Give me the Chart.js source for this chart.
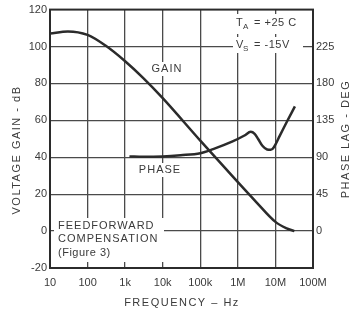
<!DOCTYPE html>
<html>
<head>
<meta charset="utf-8">
<script src="https://cdn.jsdelivr.net/npm/chart.js@4.4.0/dist/chart.umd.min.js"></script>
<style>
  html, body { margin: 0; padding: 0; background: #fff; }
</style>
</head>
<body>
<canvas id="chart" width="351" height="310"></canvas>
<script>
// Open loop gain (dB) and phase lag (deg) vs frequency
const gainFreq = [10, 30, 100, 300, 1e3, 3e3, 1e4, 1e5, 1e6, 3e6, 1e7, 2e7, 3.2e7];
const gainDb = [107, 108.2, 106.3, 100.5, 92, 83, 72, 49, 26.5, 16, 5, 1.5, 0];

const phaseFreq = [1.3e3, 3e3, 1e4, 3e4, 1e5, 2.2e5, 7e5, 1.5e6, 2.2e6, 2.8e6, 3.5e6, 4.5e6, 6e6, 7.5e6, 9e6, 1.3e7, 2e7, 3.3e7];
const phaseDeg = [91, 90.5, 91, 92.5, 95, 100, 109, 116.5, 121, 118.5, 112, 104, 99.5, 99, 102, 116, 133, 152];

const freqTicks = [10, 100, 1e3, 1e4, 1e5, 1e6, 1e7, 1e8];
const freqLabels = ['10', '100', '1k', '10k', '100k', '1M', '10M', '100M'];
const gainTicks = [-20, 0, 20, 40, 60, 80, 100, 120];
const phaseTicks = [0, 45, 90, 135, 180, 225];

const ink = '#2b2b2b';
const textCol = '#3a3a3a';
const gridCol = '#4a4a4a';
const tickFont = { family: 'Liberation Sans, Arial, sans-serif', size: 11 };

function textBox(ctx, str, x, y, align) {
    const w = ctx.measureText(str).width;
    const left = align === 'center' ? x - w / 2 : x;
    ctx.fillStyle = '#fff';
    ctx.fillRect(left - 2, y - 7, w + 4, 14);
    ctx.fillStyle = textCol;
    ctx.textAlign = align;
    ctx.fillText(str, x, y);
}

const decor = {
    id: 'decor',
    beforeDatasetsDraw(chart) {
        const ctx = chart.ctx;
        ctx.save();
        ctx.font = '11px Liberation Sans, Arial, sans-serif';
        ctx.letterSpacing = '1px';
        ctx.textBaseline = 'middle';

        textBox(ctx, 'GAIN', 167, 69, 'center');
        textBox(ctx, 'PHASE', 160, 170, 'center');

        // bottom left note
        ctx.fillStyle = '#fff';
        ctx.fillRect(54, 218, 110, 44);
        ctx.fillStyle = textCol;
        ctx.textAlign = 'left';
        ctx.fillText('FEEDFORWARD', 58, 226);
        ctx.fillText('COMPENSATION', 58, 239);
        ctx.letterSpacing = '0.5px';
        ctx.fillText('(Figure 3)', 58, 253);

        // conditions, top right
        ctx.fillStyle = '#fff';
        ctx.fillRect(233, 14, 73, 20);
        ctx.fillRect(233, 37, 70, 16);
        ctx.fillStyle = textCol;
        ctx.letterSpacing = '0.5px';
        ctx.fillText('T', 236, 23);
        ctx.fillText('V', 236, 45);
        ctx.font = '8px Liberation Sans, Arial, sans-serif';
        ctx.fillText('A', 243, 27);
        ctx.fillText('S', 243, 49);
        ctx.font = '11px Liberation Sans, Arial, sans-serif';
        ctx.fillText('= +25 C', 254, 23);
        ctx.fillText('= -15V', 254, 45);
        ctx.restore();
    },
    afterDraw(chart) {
        const ctx = chart.ctx;
        const a = chart.chartArea;
        ctx.save();
        ctx.strokeStyle = ink;
        ctx.lineWidth = 2;
        ctx.strokeRect(a.left, a.top, a.right - a.left, a.bottom - a.top);

        ctx.fillStyle = textCol;
        ctx.font = '11px Liberation Sans, Arial, sans-serif';
        ctx.letterSpacing = '1.5px';
        ctx.textAlign = 'center';
        ctx.textBaseline = 'middle';
        ctx.fillText('FREQUENCY \u2013 Hz', 182, 303);

        ctx.translate(17, 150);
        ctx.rotate(-Math.PI / 2);
        ctx.fillText('VOLTAGE GAIN - dB', 0, 0);
        ctx.restore();

        ctx.save();
        ctx.fillStyle = textCol;
        ctx.font = '11px Liberation Sans, Arial, sans-serif';
        ctx.letterSpacing = '1.5px';
        ctx.textAlign = 'center';
        ctx.textBaseline = 'middle';
        ctx.translate(346, 139);
        ctx.rotate(-Math.PI / 2);
        ctx.fillText('PHASE LAG - DEG', 0, 0);
        ctx.restore();
    }
};

const edgeColor = (lo, hi) => c => (c.tick && (c.tick.value === lo || c.tick.value === hi)) ? 'rgba(0,0,0,0)' : gridCol;

new Chart(document.getElementById('chart').getContext('2d'), {
    type: 'line',
    data: {
        datasets: [{
            label: 'Gain',
            data: gainFreq.map((f, i) => ({ x: f, y: gainDb[i] })),
            yAxisID: 'y',
            borderColor: ink,
            borderWidth: 2.5,
            pointRadius: 0,
            cubicInterpolationMode: 'monotone'
        }, {
            label: 'Phase',
            data: phaseFreq.map((f, i) => ({ x: f, y: phaseDeg[i] })),
            yAxisID: 'y1',
            borderColor: ink,
            borderWidth: 2.5,
            pointRadius: 0,
            cubicInterpolationMode: 'monotone'
        }]
    },
    options: {
        responsive: false,
        animation: false,
        layout: { padding: { top: 8 } },
        plugins: { legend: { display: false }, tooltip: { enabled: false } },
        scales: {
            x: {
                type: 'logarithmic',
                min: 10,
                max: 1e8,
                afterBuildTicks: s => { s.ticks = freqTicks.map(v => ({ value: v })); },
                afterFit: s => { s.height = 42; },
                ticks: {
                    callback: (v, i) => freqLabels[i],
                    autoSkip: false,
                    maxRotation: 0,
                    padding: 8,
                    color: textCol,
                    font: tickFont
                },
                grid: { color: edgeColor(10, 1e8), lineWidth: 1.3, drawTicks: false },
                border: { display: false }
            },
            y: {
                position: 'left',
                min: -20,
                max: 120,
                afterBuildTicks: s => { s.ticks = gainTicks.map(v => ({ value: v })); },
                afterFit: s => { s.width = 50; },
                ticks: { padding: 3, color: textCol, font: tickFont },
                grid: { color: edgeColor(-20, 120), lineWidth: 1.3, drawTicks: false },
                border: { display: false }
            },
            y1: {
                position: 'right',
                min: -45,
                max: 270,
                afterBuildTicks: s => { s.ticks = phaseTicks.map(v => ({ value: v })); },
                afterFit: s => { s.width = 38; },
                ticks: { padding: 3, color: textCol, font: tickFont },
                grid: { drawOnChartArea: false, drawTicks: false },
                border: { display: false }
            }
        }
    },
    plugins: [decor]
});
</script>
</body>
</html>
